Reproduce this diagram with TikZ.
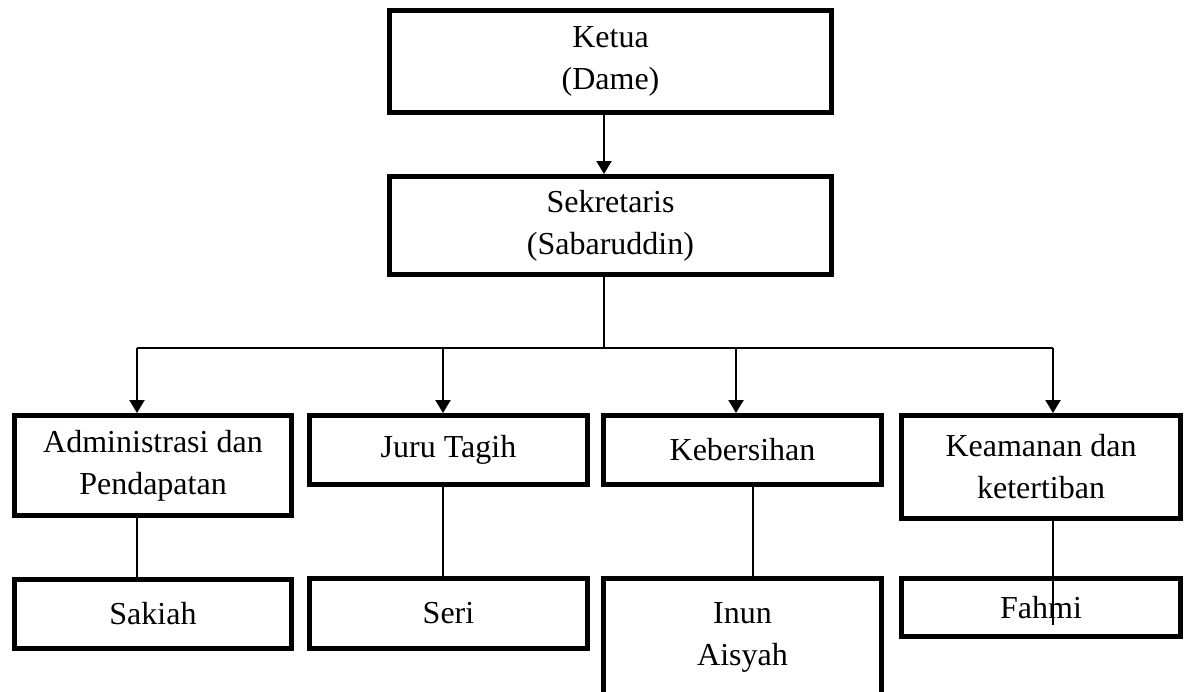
\documentclass[tikz,border=0pt]{standalone}
\usepackage{fontspec}
\setmainfont{Liberation Serif}
\usepackage{tikz}
\usetikzlibrary{arrows.meta, positioning, calc}

\begin{document}
\begin{tikzpicture}[x=0.5pt, y=-0.5pt,
    >={Triangle[width=7.5pt, length=6.5pt]},
    box/.style={draw, line width=2.5pt, align=center, inner sep=0pt,
      font=\fontsize{16}{21}\selectfont},
    link/.style={line width=1.1pt}]
  \useasboundingbox (0,0) rectangle (1189,691);

  % top of the chart
  \node[box, minimum width=221pt, minimum height=51pt] (ketua) at (610.5,61.5) {Ketua\\(Dame)};
  \node[box, minimum width=221pt, minimum height=49pt] (sekretaris) at (610.5,225.5) {Sekretaris\\(Sabaruddin)};

  % the four sections
  \node[box, minimum width=138.5pt, minimum height=50pt] (admin) at (153,465.5) {Administrasi dan\\Pendapatan};
  \node[box, minimum width=139pt, minimum height=34.5pt] (juru) at (448.5,450) {Juru Tagih};
  \node[box, minimum width=139pt, minimum height=34.5pt] (kebersihan) at (742.5,450) {Kebersihan};
  \node[box, minimum width=139.5pt, minimum height=51.5pt] (keamanan) at (1041,467) {Keamanan dan\\ketertiban};

  % staff of each section
  \node[box, minimum width=138.5pt, minimum height=34.5pt] (sakiah) at (153,614) {Sakiah};
  \node[box, minimum width=139pt, minimum height=35pt] (seri) at (448.5,613.5) {Seri};
  \node[box, minimum width=139pt, minimum height=59pt] (inun) at (742.5,637.5) {Inun\\Aisyah};
  \node[box, minimum width=139.5pt, minimum height=29pt] (fahmi) at (1041,607.5) {Fahmi};

  \coordinate (bus) at (604,348);
  \coordinate (dropA) at (137,348);
  \coordinate (dropB) at (443,348);
  \coordinate (dropC) at (736,348);
  \coordinate (dropD) at (1053,348);
  \coordinate (subC) at (753,348);
  \coordinate (endD) at (1053,625);

  \draw[link, ->] (ketua.south -| bus) -- (sekretaris.north -| bus);
  \draw[link] (sekretaris.south -| bus) -- (bus);
  \draw[link] (dropA) -- (dropD);
  \foreach \d/\n in {dropA/admin, dropB/juru, dropC/kebersihan, dropD/keamanan}
    \draw[link, ->] (\d) -- (\d |- \n.north);

  \draw[link] (dropA |- admin.south) -- (dropA |- sakiah.north);
  \draw[link] (dropB |- juru.south) -- (dropB |- seri.north);
  \draw[link] (subC |- kebersihan.south) -- (subC |- inun.north);
  \draw[link] (dropD |- keamanan.south) -- (endD);
\end{tikzpicture}
\end{document}
